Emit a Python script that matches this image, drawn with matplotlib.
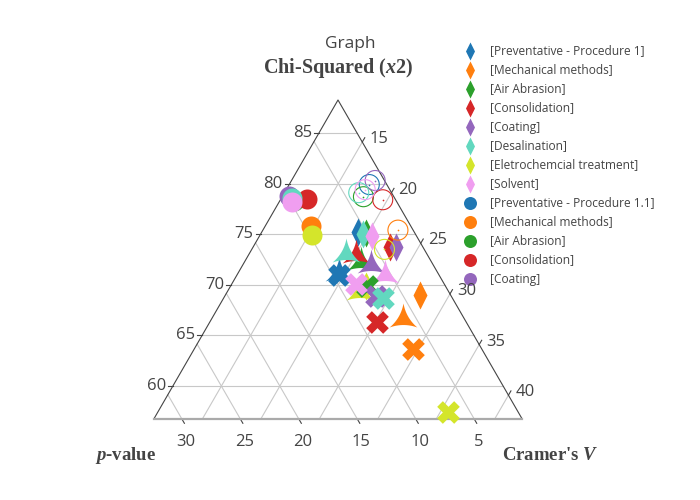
import numpy as np
import matplotlib.pyplot as plt
from matplotlib.path import Path

plt.rcParams['font.family'] = ['Open Sans', 'DejaVu Sans']
plt.rcParams['mathtext.fontset'] = 'custom'
plt.rcParams['mathtext.rm'] = 'Liberation Serif:bold'
plt.rcParams['mathtext.it'] = 'Liberation Serif:italic:bold'
plt.rcParams['mathtext.bf'] = 'Liberation Serif:bold'

# Categorias e cores
grupos = ['[Preventative - Procedure 1]', '[Mechanical methods]', '[Air Abrasion]',
          '[Consolidation]', '[Coating]', '[Desalination]',
          '[Eletrochemcial treatment]', '[Solvent]']
grupos_circ = ['[Preventative - Procedure 1.1]', '[Mechanical methods]', '[Air Abrasion]',
               '[Consolidation]', '[Coating]']
cores = ['#1f77b4', '#ff7f0e', '#2ca02c', '#d62728', '#9467bd', '#62d8bf', '#d4e52b', '#f09ef0']

# Dados: Chi-Squared (a), p-value (b), Cramer's V (c)
chi_diam = [75.2, 69.0, 75.1, 73.7, 73.7, 75.0, 69.9, 74.8]
p_diam = [5.7, 3.5, 5.1, 3.7, 3.2, 5.4, 7.7, 4.7]
v_diam = [19.1, 27.5, 19.8, 22.6, 23.1, 19.6, 22.4, 20.5]

chi_circ = [78.7, 75.8, 78.3, 78.5, 78.8, 78.6, 74.9, 78.2]
p_circ = [9.8, 9.4, 9.6, 8.4, 9.8, 9.7, 9.8, 9.9]
v_circ = [11.5, 14.8, 12.1, 13.1, 11.4, 11.7, 15.3, 11.9]

chi_tri = [71.2, 66.6, 72.3, 72.9, 72.0, 73.0, 69.3, 71.0]
p_tri = [9.3, 6.2, 6.9, 7.0, 6.2, 7.8, 8.5, 5.5]
v_tri = [19.5, 27.2, 20.8, 20.1, 21.8, 19.2, 22.2, 23.5]

chi_x = [71.0, 63.7, 69.9, 66.3, 68.9, 68.7, 57.4, 70.1]
p_x = [9.4, 6.8, 7.6, 8.5, 7.3, 6.8, 6.9, 8.4]
v_x = [19.6, 29.5, 22.5, 25.2, 23.8, 24.5, 35.7, 21.5]

chi_aberto = [79.9, 75.4, 78.7, 78.4, 80.3, 79.1, 73.5, 79.4]
p_aberto = [2.4, 2.2, 3.5, 2.0, 1.7, 3.7, 4.3, 3.0]
v_aberto = [17.7, 22.4, 17.8, 19.6, 18.0, 17.2, 22.2, 17.6]

ticks_a = [60, 65, 70, 75, 80, 85]
ticks_b = [5, 10, 15, 20, 25, 30]
ticks_c = [15, 20, 25, 30, 35, 40]

# Limites dos eixos ternarios
amin, bmin, cmin = 56.75, 0.9, 10.85
S = 100 - amin - bmin - cmin

# Geometria do triangulo (em pixels)
x0, ytopo, ybase = 338.0, 100.0, 419.0
altura = ybase - ytopo
meia = altura / np.sqrt(3)


def ternario(a, b, c):
    a, b, c = np.asarray(a, float), np.asarray(b, float), np.asarray(c, float)
    tot = a + b + c
    fa = (a * 100 / tot - amin) / S
    fb = (b * 100 / tot - bmin) / S
    fc = (c * 100 / tot - cmin) / S
    return x0 + (fc - fb) * meia, ybase - fa * altura


# Marcadores no estilo plotly
diamante = Path([(0, 1.4), (0.7, 0), (0, -1.4), (-0.7, 0), (0, 1.4)], closed=True)

rx = 0.8 / np.sqrt(2)
passos = [(rx, rx), (rx, -rx), (-rx, -rx), (rx, -rx), (-rx, -rx), (-rx, rx),
          (-rx, -rx), (-rx, rx), (rx, rx), (-rx, rx), (rx, rx)]
pts = [(0, rx)]
for dx, dy in passos:
    pts.append((pts[-1][0] + dx, pts[-1][1] + dy))
pts.append((0, rx))
xis = Path(pts, closed=True)


def arco(p, q, R, n=14):
    p, q = np.array(p), np.array(q)
    m = (p + q) / 2
    L = np.linalg.norm(q - p)
    d = np.sqrt(R ** 2 - (L / 2) ** 2)
    centro = m + m / np.linalg.norm(m) * d
    t1 = np.arctan2(*(p - centro)[::-1])
    t2 = np.arctan2(*(q - centro)[::-1])
    if t2 - t1 > np.pi:
        t2 -= 2 * np.pi
    if t1 - t2 > np.pi:
        t2 += 2 * np.pi
    t = np.linspace(t1, t2, n)
    return np.column_stack([centro[0] + R * np.cos(t), centro[1] + R * np.sin(t)])


vA, vB, vC = (-0.8 * np.sqrt(3), -0.8), (0.8 * np.sqrt(3), -0.8), (0, 1.6)
vt = np.vstack([arco(vA, vB, 4), arco(vB, vC, 4)[1:], arco(vC, vA, 4)[1:]])
estrela = Path(vt, closed=True)

fig = plt.figure(figsize=(7, 5), dpi=100)
ax = fig.add_axes([0, 0, 1, 1])
ax.set_xlim(0, 700)
ax.set_ylim(500, 0)
ax.axis('off')

# Grade
cor_grade = '#c8c8c8'
for a in ticks_a:
    xs, ys = ternario([a, a], [100 - a - cmin, bmin], [cmin, 100 - a - bmin])
    ax.plot(xs, ys, color=cor_grade, lw=0.8, zorder=1)
    ax.plot([xs[0] - 5, xs[0]], [ys[0], ys[0]], color='#444444', lw=0.8, zorder=2)
    ax.text(xs[0] - 7, ys[0], str(a), ha='right', va='center', fontsize=12, color='#444444')
for b in ticks_b:
    xs, ys = ternario([amin, 100 - b - cmin], [b, b], [100 - amin - b, cmin])
    ax.plot(xs, ys, color=cor_grade, lw=0.8, zorder=1)
    ax.plot([xs[0], xs[0] + 2.5], [ys[0], ys[0] + 4.3], color='#444444', lw=0.8, zorder=2)
    ax.text(xs[0] + 4, ys[0] + 23, str(b), ha='center', va='center', fontsize=12, color='#444444')
for c in ticks_c:
    xs, ys = ternario([amin, 100 - c - bmin], [100 - amin - c, bmin], [c, c])
    ax.plot(xs, ys, color=cor_grade, lw=0.8, zorder=1)
    ax.plot([xs[1], xs[1] + 2.5], [ys[1], ys[1] - 4.3], color='#444444', lw=0.8, zorder=2)
    ax.text(xs[1] + 7, ys[1] - 3, str(c), ha='left', va='center', fontsize=12, color='#444444')

# Bordas do triangulo
ax.plot([x0 - meia, x0, x0 + meia], [ybase, ytopo, ybase], color='#444444', lw=0.8, zorder=2)
ax.plot([x0 - meia, x0 + meia], [ybase, ybase], color='#aaaaaa', lw=1.6, zorder=2)

# Pontos
for i in range(8):
    x, y = ternario(chi_diam[i], p_diam[i], v_diam[i])
    ax.scatter(x, y, marker=diamante, s=(28 * 0.72) ** 2, color=cores[i], lw=0, zorder=3)
for i in range(8):
    x, y = ternario(chi_circ[i], p_circ[i], v_circ[i])
    ax.scatter(x, y, marker='o', s=(20 * 0.72) ** 2, color=cores[i], lw=0, zorder=4)
for i in range(8):
    x, y = ternario(chi_tri[i], p_tri[i], v_tri[i])
    ax.scatter(x, y, marker=estrela, s=(32 * 0.72) ** 2, color=cores[i], lw=0, zorder=5)
for i in range(8):
    x, y = ternario(chi_x[i], p_x[i], v_x[i])
    ax.scatter(x, y, marker=xis, s=(4 * rx * 10 * 0.72) ** 2, color=cores[i], lw=0, zorder=6)
for i in range(8):
    x, y = ternario(chi_aberto[i], p_aberto[i], v_aberto[i])
    ax.scatter(x, y, marker='o', s=(20 * 0.72) ** 2, facecolors='none',
               edgecolors=cores[i], linewidths=0.8, zorder=7)
    ax.scatter(x, y, marker='o', s=1.5, color=cores[i], lw=0, zorder=7)

# Titulos
ax.text(350, 44, 'Graph', ha='center', va='center', fontsize=12.5, color='#444444')
ax.text(338, 68, r'Chi-Squared ($\mathit{x}$2)', ha='center', va='center', fontsize=14.5,
        family='Liberation Serif', fontweight='bold', color='#444444')
ax.text(126, 456, r'$\mathit{p}$-value', ha='center', va='center', fontsize=13.5,
        family='Liberation Serif', fontweight='bold', color='#444444')
ax.text(550, 456, r"Cramer's $\mathit{V}$", ha='center', va='center', fontsize=13.5,
        family='Liberation Serif', fontweight='bold', color='#444444')

# Legenda
y_leg = 51
for i, nome in enumerate(grupos):
    ax.scatter(470, y_leg, marker=diamante, s=(18 * 0.72) ** 2, color=cores[i], lw=0)
    ax.text(490, y_leg, nome, ha='left', va='center', fontsize=8.6, color='#444444')
    y_leg += 19
for i, nome in enumerate(grupos_circ):
    ax.scatter(470, y_leg, marker='o', s=(13 * 0.72) ** 2, color=cores[i], lw=0)
    ax.text(490, y_leg, nome, ha='left', va='center', fontsize=8.6, color='#444444')
    y_leg += 19

fig.savefig('out.png', dpi=100)
